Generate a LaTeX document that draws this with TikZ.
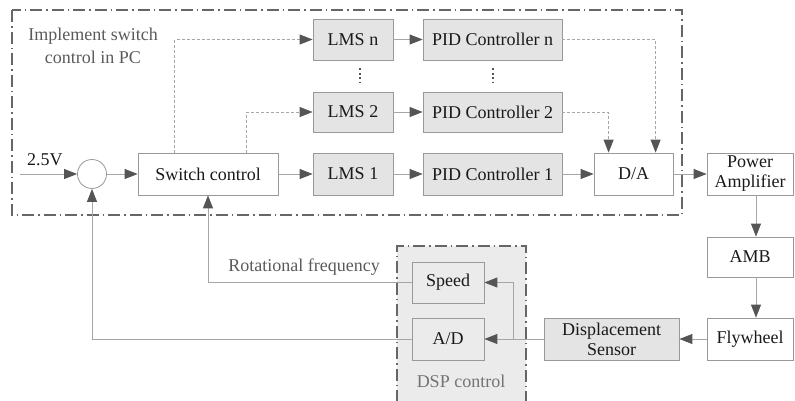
\documentclass[tikz,border=0pt]{standalone}
\usepackage{fontspec}
\setmainfont{Liberation Serif}
\usetikzlibrary{arrows.meta,calc}
\definecolor{linec}{HTML}{A6A6A6}
\definecolor{tipc}{HTML}{555555}
\definecolor{boxc}{HTML}{999999}
\definecolor{grayfill}{HTML}{E4E4E4}
\definecolor{dspfill}{HTML}{EBEBEB}
\definecolor{framec}{HTML}{666666}
\definecolor{labc}{HTML}{5A5A5A}
\begin{document}
\begin{tikzpicture}[x=1pt,y=-1pt, font=\fontsize{18}{20}\selectfont,
 blk/.style={draw=boxc, line width=0.8pt, fill=white, inner sep=0pt, minimum height=42pt, align=center, text=black!90},
 gblk/.style={blk, fill=grayfill},
 conn/.style={draw=linec, line width=0.9pt, -{Triangle[length=13pt,width=10pt,color=tipc]}},
 dconn/.style={conn, dash pattern=on 3pt off 2pt},
 frame/.style={draw=framec, line width=1.3pt, dash pattern=on 12pt off 4pt on 1.5pt off 4pt},
 lab/.style={text=labc, inner sep=0pt},
 vdots/.style={draw=tipc, line width=1.6pt, dash pattern=on 2pt off 2.5pt}]
\useasboundingbox (0,0) rectangle (795,400);
% frames
\draw[frame] (12,10) rectangle (682,215);
\fill[dspfill] (397,246) rectangle (526,402);
\draw[frame] (397,402) -- (397,246) -- (526,246) -- (526,402);
% labels
\node[lab, align=center, font=\fontsize{18}{23}\selectfont] (title) at (93,46) {Implement switch\\control in PC};
\node[lab] (rf) at (304,267) {Rotational frequency};
\node[lab, text=labc!85] (dsp) at (461,381) {DSP control};
\node[inner sep=0pt, anchor=base west, text=black!90] (v) at (27,165) {2.5V};
% nodes
\node[circle, draw=boxc, line width=0.8pt, fill=white, minimum size=29pt, inner sep=0pt] (sum) at (92,174) {};
\coordinate (in) at (20,174);
\node[blk, minimum width=140pt] (sw) at (208,174) {Switch control};
\node[gblk, minimum width=80pt] (l1) at (353,174) {LMS 1};
\node[gblk, minimum width=80pt, minimum height=40pt] (l2) at (353,112) {LMS 2};
\node[gblk, minimum width=80pt, minimum height=41pt] (ln) at (353,39.5) {LMS n};
\node[gblk, minimum width=139pt] (p1) at (492.5,174) {PID Controller 1};
\node[gblk, minimum width=139pt, minimum height=40pt] (p2) at (492.5,112) {PID Controller 2};
\node[gblk, minimum width=139pt, minimum height=41pt] (pn) at (492.5,39.5) {PID Controller n};
\node[blk, minimum width=79pt] (da) at (633.5,174) {D/A};
\node[blk, minimum width=86pt] (pa) at (750,174) {Power\\Amplifier};
\node[blk, minimum width=86pt, minimum height=40pt] (amb) at (750,257) {AMB};
\node[blk, minimum width=86pt] (fw) at (750,339) {Flywheel};
\node[gblk, minimum width=135pt] (ds) at (611.5,339) {Displacement\\Sensor};
\node[blk, fill=dspfill, minimum width=72pt, minimum height=41pt] (sp) at (448,282.5) {Speed};
\node[blk, fill=dspfill, minimum width=72pt] (ad) at (448,339) {A/D};
% dots
\coordinate (d1a) at (360,68); \coordinate (d1b) at (360,82);
\coordinate (d2a) at (493,68); \coordinate (d2b) at (493,82);
\draw[vdots] (d1a) -- (d1b);
\draw[vdots] (d2a) -- (d2b);
% connectors
\draw[conn] (in) -- (sum.west);
\draw[conn] (sum) -- (sw);
\draw[conn] (sw) -- (l1);
\draw[conn] (l1) -- (p1);
\draw[conn] (l2) -- (p2);
\draw[conn] (ln) -- (pn);
\draw[conn] (p1) -- (da);
\draw[conn] (da) -- (pa);
\draw[dconn] ($(sw.north west)+(37,0)$) |- (ln.west);
\draw[dconn] ($(sw.north west)+(109,0)$) |- (l2.west);
\draw[dconn] (pn.east) -| ($(da.north west)+(62,0)$);
\draw[dconn] (p2.east) -| ($(da.north west)+(15,0)$);
\draw[conn] ($(pa.south)+(6,0)$) -- ($(amb.north)+(6,0)$);
\draw[conn] ($(amb.south)+(6,0)$) -- ($(fw.north)+(6,0)$);
\draw[conn] (fw) -- (ds);
\draw[conn] (ds) -- (ad);
\coordinate (br) at (513,339);
\draw[conn] (br) |- (sp.east);
\draw[conn] (sp.west) -| (sw.south);
\draw[conn] (ad.west) -| (sum.south);
\end{tikzpicture}
\end{document}
